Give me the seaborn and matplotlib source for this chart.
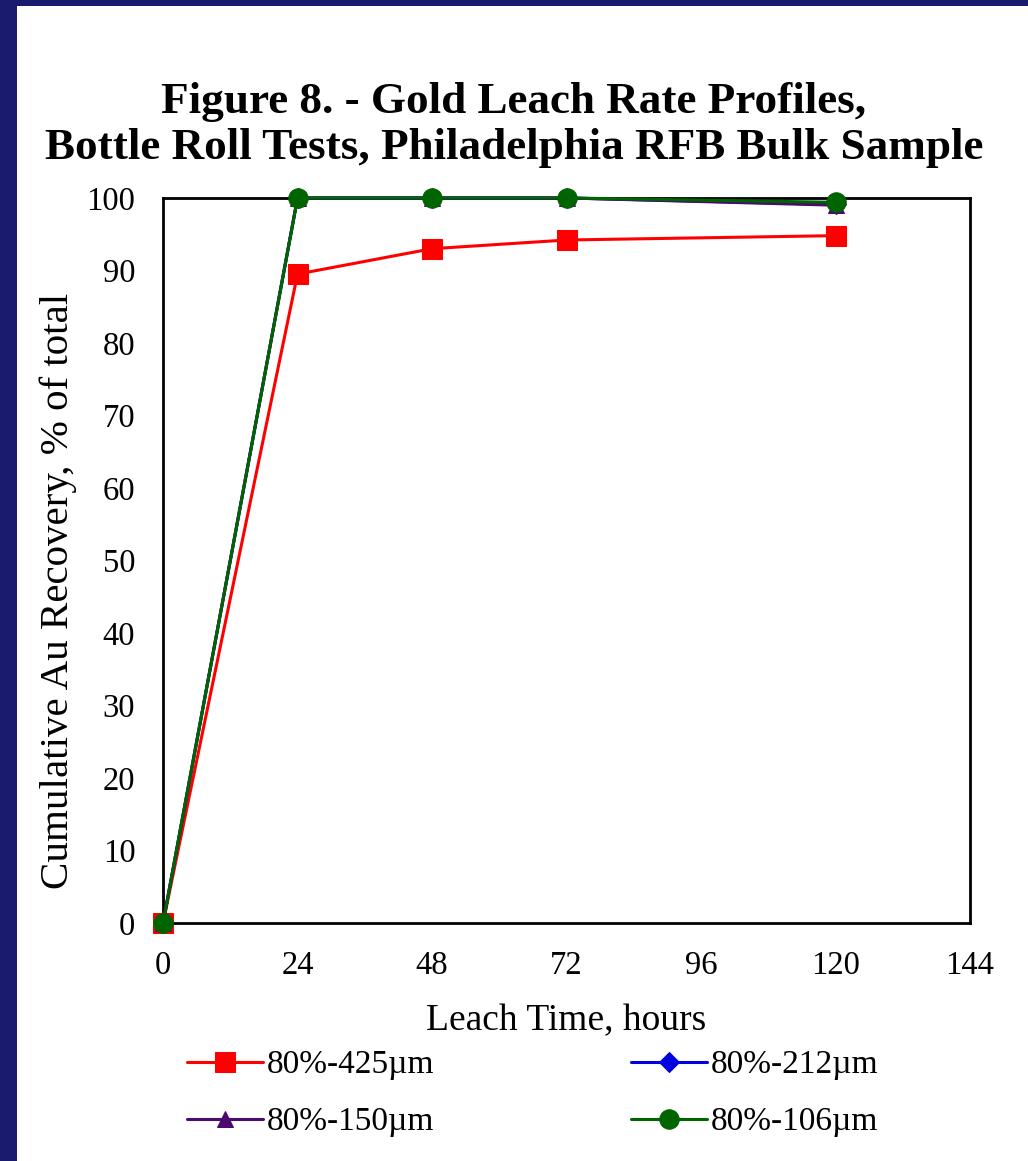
import pandas as pd
import numpy as np
import matplotlib
matplotlib.use("Agg")
import matplotlib.pyplot as plt
import seaborn as sns
from matplotlib.patches import Rectangle

# data
hours = [0, 24, 48, 72, 120]
rec_425 = [0, 89.5, 93.0, 94.2, 94.8]
rec_212 = [0, 100.0, 100.0, 100.0, 99.1]
rec_150 = [0, 100.0, 100.0, 100.0, 99.0]
rec_106 = [0, 100.0, 100.0, 100.0, 99.4]

series_names = ["80%-425\u00b5m", "80%-212\u00b5m", "80%-150\u00b5m", "80%-106\u00b5m"]
series_values = [rec_425, rec_212, rec_150, rec_106]
colors = ["#ff0000", "#0000e0", "#4b0a6e", "#006400"]
markers = ["s", "D", "^", "o"]
msizes = [15, 10, 12, 14]

x_ticks = [0, 24, 48, 72, 96, 120, 144]
y_ticks = [0, 10, 20, 30, 40, 50, 60, 70, 80, 90, 100]

rows = []
for name, vals in zip(series_names, series_values):
    for h, v in zip(hours, vals):
        rows.append({"hours": h, "recovery": v, "size": name})
data = pd.DataFrame(rows)

sns.set_style("white")
plt.rcParams['font.family'] = ['Liberation Serif', 'DejaVu Serif']
plt.rcParams['text.color'] = 'black'
plt.rcParams['axes.labelcolor'] = 'black'
plt.rcParams['xtick.color'] = 'black'
plt.rcParams['ytick.color'] = 'black'

fig = plt.figure(figsize=(10.28, 11.61), dpi=100)
# navy slide border + white panel
fig.patches.append(Rectangle((0, 0), 1, 1, transform=fig.transFigure,
                             facecolor="#1a1a6e", edgecolor="none", zorder=-10))
fig.patches.append(Rectangle((17 / 1028, 0), 1, 1 - 6 / 1161, transform=fig.transFigure,
                             facecolor="white", edgecolor="none", zorder=-9))

ax = fig.add_axes([0.1586, 0.205, 0.785, 0.6245])
ax.set_facecolor("white")

for i, name in enumerate(series_names):
    sub = data[data["size"] == name]
    sns.lineplot(data=sub, x="hours", y="recovery", ax=ax, color=colors[i],
                 marker=markers[i], markersize=msizes[i], markeredgecolor=colors[i],
                 linewidth=2.2, label=name, zorder=3 + i, clip_on=False)

ax.set_xlim(0, 144)
ax.set_ylim(0, 100)
ax.set_xticks(x_ticks)
ax.set_yticks(y_ticks)
ax.tick_params(axis="both", direction="in", length=6, width=2, labelsize=23.5,
               pad=20, colors="black")
ax.tick_params(top=False, right=False)
for s in ax.spines.values():
    s.set_linewidth(2)
    s.set_color("black")

ax.set_xlabel("Leach Time, hours", fontsize=27, labelpad=16)
ax.set_ylabel("Cumulative Au Recovery, % of total", fontsize=29.5)
ax.yaxis.set_label_coords(-0.107, 0.458)

fig.text(0.5, 0.8925, "Figure 8. - Gold Leach Rate Profiles,\nBottle Roll Tests, Philadelphia RFB Bulk Sample",
         ha="center", va="center", fontsize=32.5, fontweight="bold", linespacing=1.18)

handles, labels = ax.get_legend_handles_labels()
ax.get_legend().remove()
order = [0, 2, 1, 3]
fig.legend([handles[i] for i in order], [labels[i] for i in order],
           ncol=2, loc="center", bbox_to_anchor=(0.518, 0.058), frameon=False,
           fontsize=24, handlelength=2.3, columnspacing=5.9, labelspacing=0.8,
           handletextpad=0.1)

fig.savefig("out.png", dpi=100)
